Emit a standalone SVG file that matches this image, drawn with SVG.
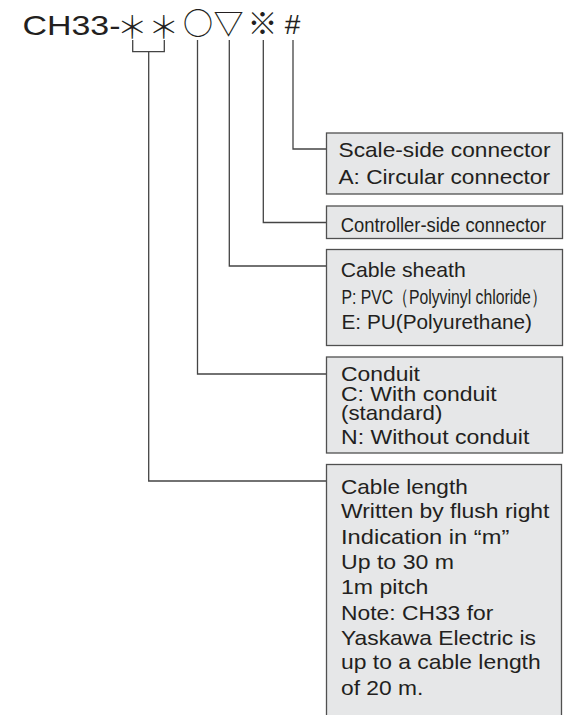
<svg xmlns="http://www.w3.org/2000/svg" width="576" height="715" viewBox="0 0 576 715">
<style>
.bg{fill:#ffffff}
.box{fill:#e6e7e8;stroke:#505050;stroke-width:1.3}
.con{fill:none;stroke:#444;stroke-width:1.3}
.t{font-family:"Liberation Sans",Arial,sans-serif;font-size:21px;fill:#231f20}
.title{font-family:"Liberation Sans",Arial,sans-serif;font-size:28px;fill:#231f20}
.sym{font-family:"Noto Sans CJK JP","DejaVu Sans",sans-serif;font-size:30px;fill:#231f20;text-anchor:middle}
.ast{font-family:"Noto Sans CJK JP","DejaVu Sans",sans-serif;font-size:31px;font-weight:200;fill:#231f20;text-anchor:middle}
</style>
<rect class="bg" x="0" y="0" width="576" height="715"/>
<g id="code">
<text class="title" x="22.5" y="34.5" textLength="98" lengthAdjust="spacingAndGlyphs">CH33-</text>
<text class="ast" x="132.2" y="37.5">＊</text>
<text class="ast" x="163.8" y="37.5">＊</text>
<text class="sym" x="198" y="34">○</text>
<text class="sym" x="228.5" y="34">▽</text>
<text class="sym" x="262.5" y="34">※</text>
<text class="title" x="292.5" y="33.5" text-anchor="middle" font-size="27">#</text>
</g>
<g id="connectors">
<path class="con" d="M132.7,40 V51.7 H164.3 V40"/>
<path class="con" d="M148.7,51.7 V481 H326.5"/>
<path class="con" d="M197.5,40 V374 H326.5"/>
<path class="con" d="M229.3,40 V266 H326.5"/>
<path class="con" d="M263.3,40 V222.5 H326.5"/>
<path class="con" d="M293,40 V149 H326.5"/>
</g>
<g id="scale-side">
<rect class="box" x="326.5" y="133" width="236" height="61"/>
<text class="t" x="338.5" y="157" textLength="212" lengthAdjust="spacingAndGlyphs">Scale-side connector</text>
<text class="t" x="338.5" y="183.5" textLength="211.5" lengthAdjust="spacingAndGlyphs">A: Circular connector</text>
</g>
<g id="controller-side">
<rect class="box" x="326.5" y="206" width="236" height="32.5"/>
<text class="t" x="340.7" y="231.5" textLength="205.5" lengthAdjust="spacingAndGlyphs">Controller-side connector</text>
</g>
<g id="cable-sheath">
<rect class="box" x="326.5" y="249.5" width="236" height="96"/>
<text class="t" x="340.7" y="277" textLength="125" lengthAdjust="spacingAndGlyphs">Cable sheath</text>
<text class="t" x="341.5" y="304" font-size="19" textLength="205" lengthAdjust="spacingAndGlyphs">P: PVC（Polyvinyl chloride）</text>
<text class="t" x="341.5" y="329" textLength="190.5" lengthAdjust="spacingAndGlyphs">E: PU(Polyurethane)</text>
</g>
<g id="conduit">
<rect class="box" x="326.5" y="357" width="236" height="96"/>
<text class="t" x="341" y="380.7" textLength="79" lengthAdjust="spacingAndGlyphs">Conduit</text>
<text class="t" x="341" y="400.7" textLength="155.7" lengthAdjust="spacingAndGlyphs">C: With conduit</text>
<text class="t" x="341" y="420" textLength="101.3" lengthAdjust="spacingAndGlyphs">(standard)</text>
<text class="t" x="341" y="444" textLength="188.3" lengthAdjust="spacingAndGlyphs">N: Without conduit</text>
</g>
<g id="cable-length">
<rect class="box" x="326.5" y="464.5" width="235" height="270"/>
<text class="t" x="341" y="494" textLength="126.7" lengthAdjust="spacingAndGlyphs">Cable length</text>
<text class="t" x="341" y="518" textLength="208.5" lengthAdjust="spacingAndGlyphs">Written by flush right</text>
<text class="t" x="341" y="543.5" textLength="168.3" lengthAdjust="spacingAndGlyphs">Indication in “m”</text>
<text class="t" x="341" y="569" textLength="113" lengthAdjust="spacingAndGlyphs">Up to 30 m</text>
<text class="t" x="341" y="594" textLength="87.3" lengthAdjust="spacingAndGlyphs">1m pitch</text>
<text class="t" x="341" y="619.5" textLength="152.3" lengthAdjust="spacingAndGlyphs">Note: CH33 for</text>
<text class="t" x="341" y="645" textLength="195" lengthAdjust="spacingAndGlyphs">Yaskawa Electric is</text>
<text class="t" x="341" y="669" textLength="199.7" lengthAdjust="spacingAndGlyphs">up to a cable length</text>
<text class="t" x="341" y="695" textLength="82.3" lengthAdjust="spacingAndGlyphs">of 20 m.</text>
</g>
</svg>
